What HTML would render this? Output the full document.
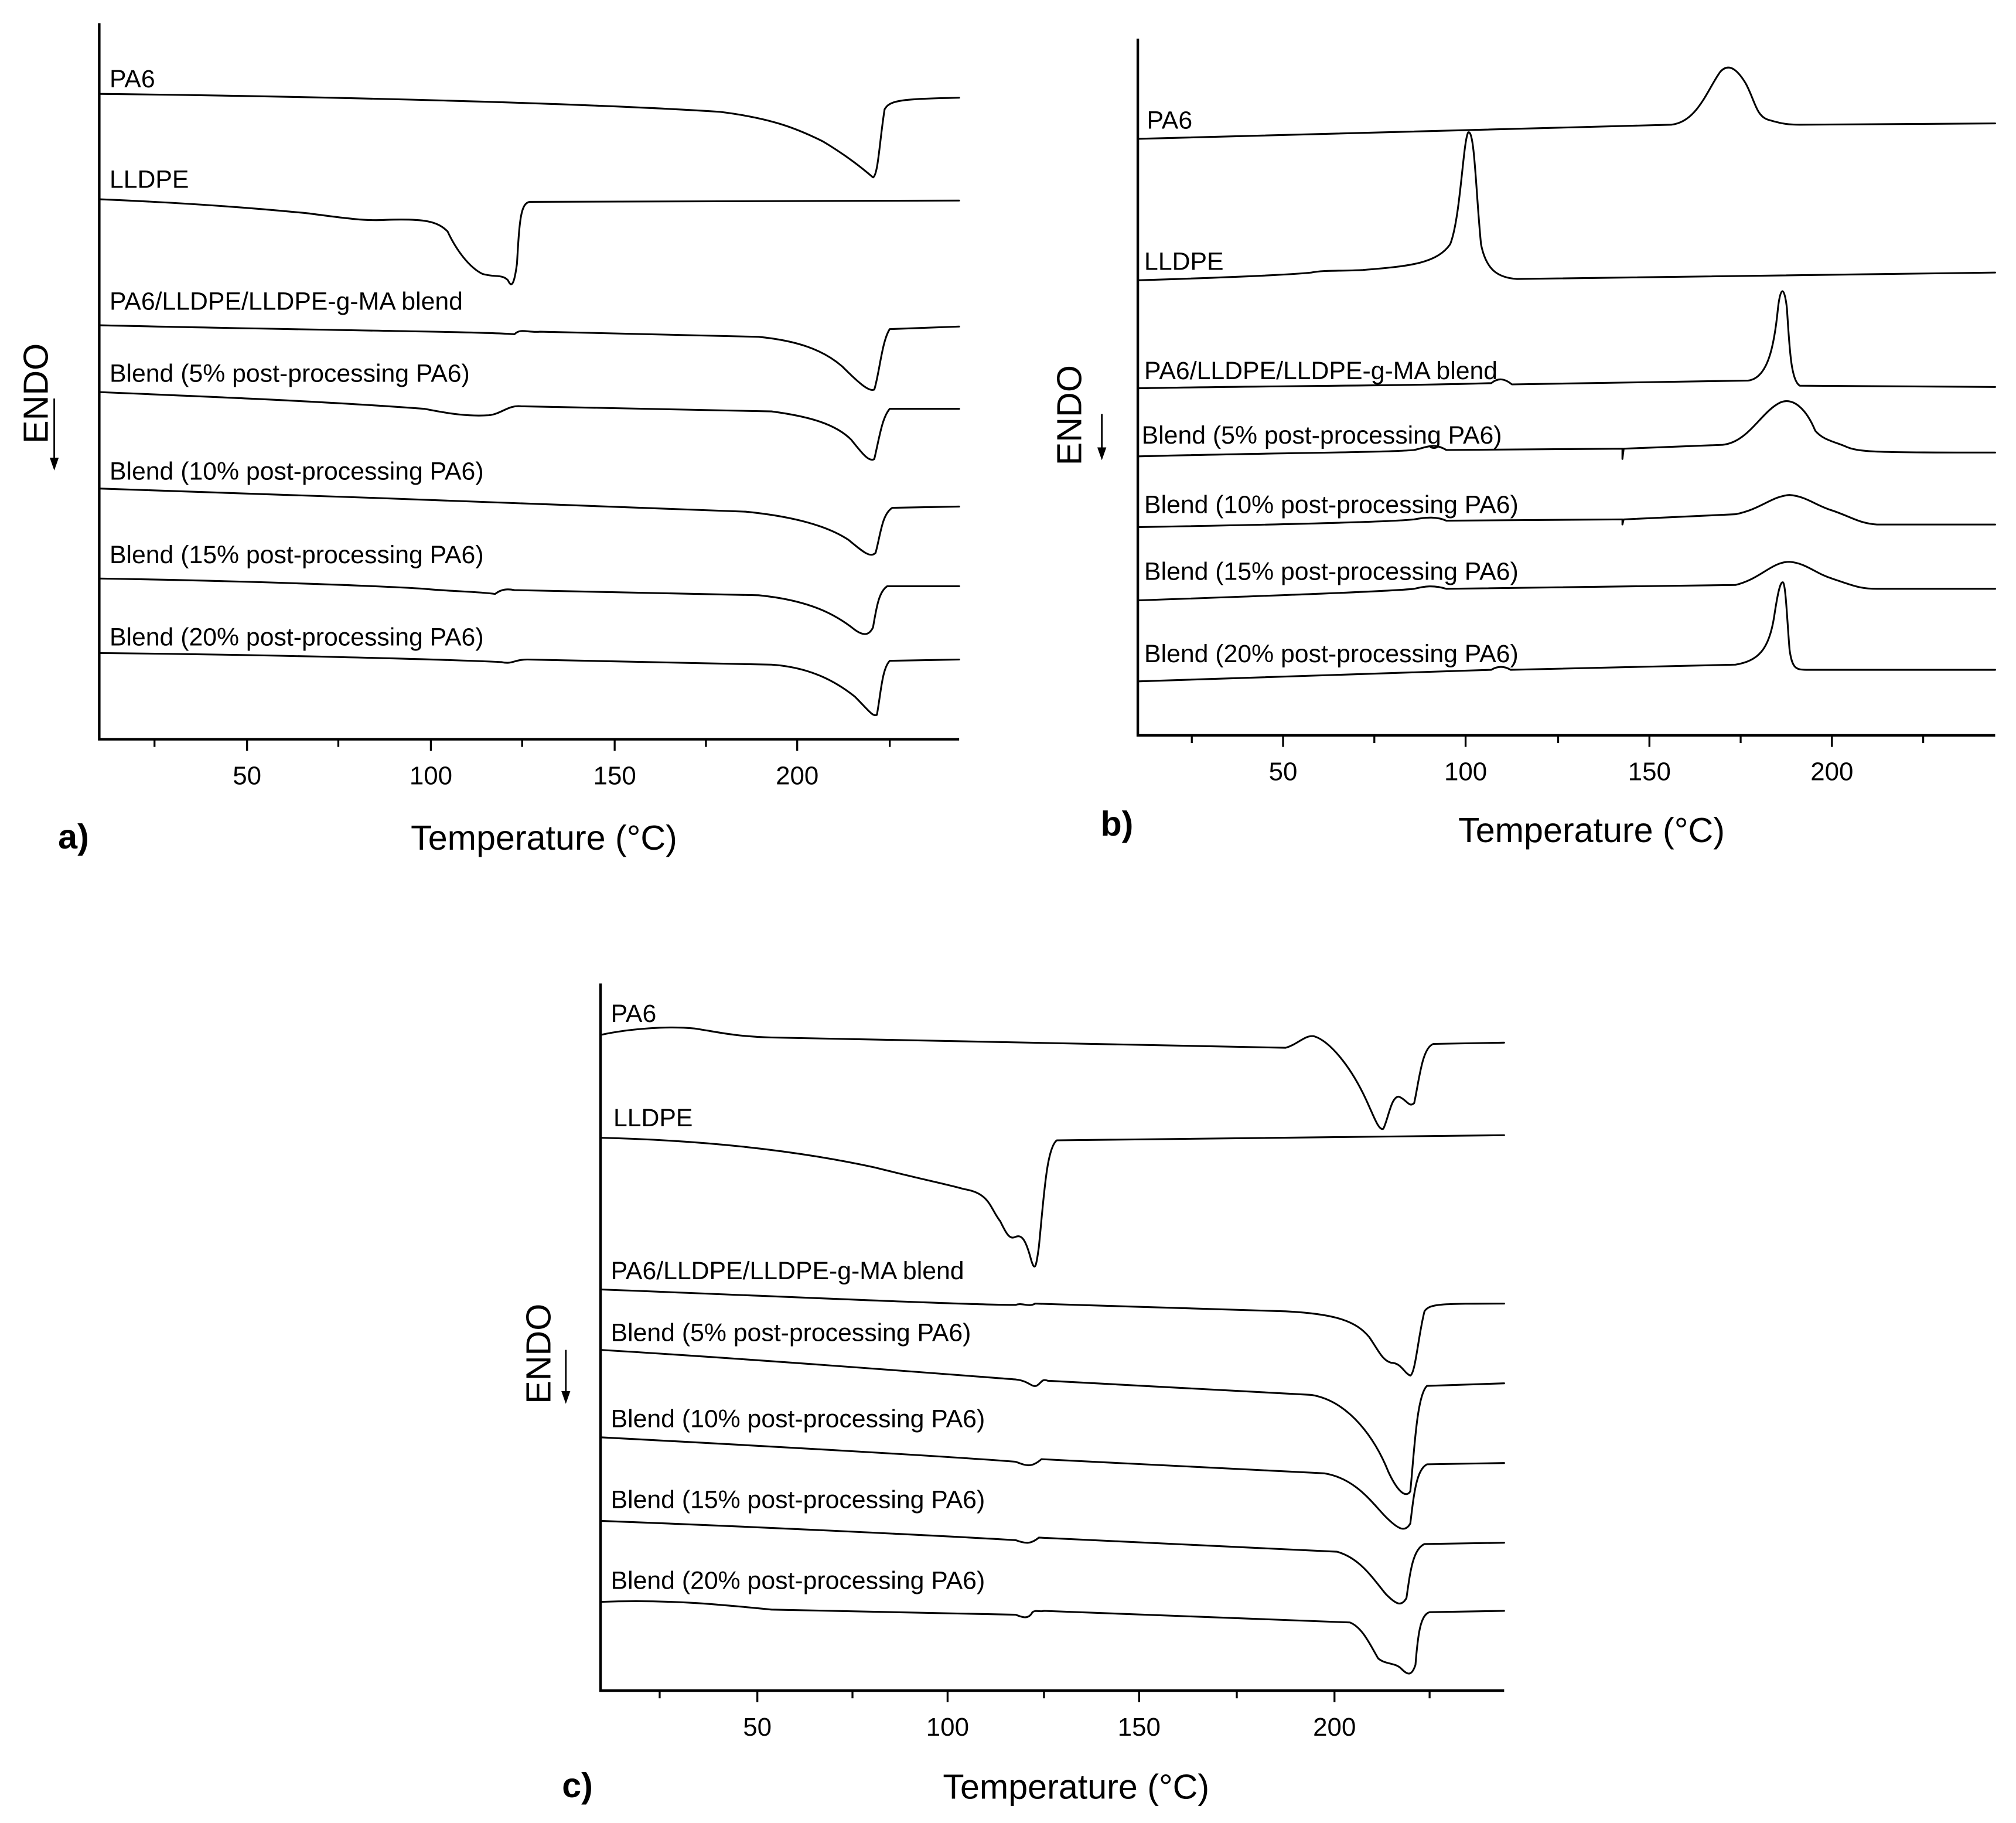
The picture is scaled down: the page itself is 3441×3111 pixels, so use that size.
<!DOCTYPE html>
<html><head><meta charset="utf-8"><style>
html,body{margin:0;padding:0;background:#fff;}
svg{display:block;}
text{font-family:"Liberation Sans",Arial,sans-serif;fill:#000;}
.c{fill:none;stroke:#000;stroke-width:1.4;stroke-linejoin:round;stroke-linecap:round;}
.ax{stroke:#000;stroke-width:2;fill:none;}
.tk{stroke:#000;stroke-width:1.5;}
.lb{font-size:19.5px;}
.tl{font-size:20px;}
.tt{font-size:27px;}
.pl{font-size:27px;font-weight:bold;}
</style></head><body>
<svg width="3441" height="3111" viewBox="0 0 1568 1418" xmlns="http://www.w3.org/2000/svg">
<rect width="1568" height="1418" fill="#fff"/>

<!-- Panel a -->
<path class="ax" d="M77,18 L77,575 L746,575"/>
<g class="tk">
<line x1="120" y1="575" x2="120" y2="581"/><line x1="192" y1="575" x2="192" y2="584"/>
<line x1="263" y1="575" x2="263" y2="581"/><line x1="335" y1="575" x2="335" y2="584"/>
<line x1="406" y1="575" x2="406" y2="581"/><line x1="478" y1="575" x2="478" y2="584"/>
<line x1="549" y1="575" x2="549" y2="581"/><line x1="620" y1="575" x2="620" y2="584"/>
<line x1="692" y1="575" x2="692" y2="581"/>
</g>
<g class="tl" text-anchor="middle">
<text x="192" y="610">50</text><text x="335" y="610">100</text><text x="478" y="610">150</text><text x="620" y="610">200</text>
</g>
<text class="tt" x="423" y="661" text-anchor="middle">Temperature (°C)</text>
<text class="pl" x="45" y="660">a)</text>
<text class="tt" transform="translate(37,345) rotate(-90)" font-size="23">ENDO</text>
<line x1="42" y1="310" x2="42" y2="360" stroke="#000" stroke-width="1.3"/>
<path d="M38.5,356 L42,366 L45.5,356 Z"/>

<g class="lb">
<text x="85" y="68">PA6</text>
<text x="85" y="146">LLDPE</text>
<text x="85" y="241">PA6/LLDPE/LLDPE-g-MA blend</text>
<text x="85" y="297">Blend (5% post-processing PA6)</text>
<text x="85" y="373">Blend (10% post-processing PA6)</text>
<text x="85" y="438">Blend (15% post-processing PA6)</text>
<text x="85" y="502">Blend (20% post-processing PA6)</text>
</g>
<path class="c" d="M77,73 C250,75 450,80 560,87 C600,92 620,100 640,110 C660,122 672,132 679,138 C683,136 684,110 688,85 C692,78 700,77 746,76"/>
<path class="c" d="M77,155 C150,158 200,162 240,166 C270,170 285,172 300,171 C330,170 340,172 348,180 C355,195 365,208 375,213 C385,216 390,213 395,218 C398,225 400,220 402,205 C404,170 405,158 412,157 L746,156"/>
<path class="c" d="M77,253 C250,257 380,258 400,260 C405,255 410,259 420,258 L590,262 C620,265 640,272 655,285 C668,298 676,305 680,303 C684,290 686,265 692,256 L746,254"/>
<path class="c" d="M77,305 C150,308 250,312 330,318 C350,322 365,324 380,323 C390,322 395,315 405,316 L600,320 C630,324 650,330 662,342 C670,352 676,360 680,357 C684,340 686,325 692,318 L746,318"/>
<path class="c" d="M77,380 C250,385 400,392 580,398 C620,402 645,410 660,420 C672,430 677,434 681,430 C685,415 686,400 694,395 L746,394"/>
<path class="c" d="M77,450 C200,452 300,456 330,458 C350,460 370,460 385,462 C390,458 395,458 400,459 L590,463 C630,467 650,478 665,490 C672,495 676,494 679,488 C682,470 684,460 690,456 L746,456"/>
<path class="c" d="M77,508 C200,509 350,513 390,515 C398,517 400,513 410,513 L600,517 C630,519 650,530 665,542 C675,552 679,558 682,556 C685,540 686,520 692,514 L746,513"/>

<!-- Panel b -->
<path class="ax" d="M885,30 L885,572 L1552,572"/>
<g class="tk">
<line x1="927" y1="572" x2="927" y2="578"/><line x1="998" y1="572" x2="998" y2="581"/>
<line x1="1069" y1="572" x2="1069" y2="578"/><line x1="1140" y1="572" x2="1140" y2="581"/>
<line x1="1212" y1="572" x2="1212" y2="578"/><line x1="1283" y1="572" x2="1283" y2="581"/>
<line x1="1354" y1="572" x2="1354" y2="578"/><line x1="1425" y1="572" x2="1425" y2="581"/>
<line x1="1496" y1="572" x2="1496" y2="578"/>
</g>
<g class="tl" text-anchor="middle">
<text x="998" y="607">50</text><text x="1140" y="607">100</text><text x="1283" y="607">150</text><text x="1425" y="607">200</text>
</g>
<text class="tt" x="1238" y="655" text-anchor="middle">Temperature (°C)</text>
<text class="pl" x="856" y="650">b)</text>
<text class="tt" transform="translate(841,362) rotate(-90)" font-size="23">ENDO</text>
<line x1="857" y1="322" x2="857" y2="352" stroke="#000" stroke-width="1.3"/>
<path d="M853.5,348 L857,358 L860.5,348 Z"/>

<g class="lb">
<text x="892" y="100">PA6</text>
<text x="890" y="210">LLDPE</text>
<text x="890" y="295">PA6/LLDPE/LLDPE-g-MA blend</text>
<text x="888" y="345">Blend (5% post-processing PA6)</text>
<text x="890" y="399">Blend (10% post-processing PA6)</text>
<text x="890" y="451">Blend (15% post-processing PA6)</text>
<text x="890" y="515">Blend (20% post-processing PA6)</text>
</g>
<path class="c" d="M885,108 C1050,103 1200,100 1300,97 C1320,95 1328,70 1338,56 C1345,48 1352,55 1358,65 C1365,78 1366,90 1375,93 C1385,96 1390,97 1400,97 L1552,96"/>
<path class="c" d="M885,218 C950,216 1000,214 1020,212 C1030,210 1040,211 1060,210 C1100,207 1118,204 1128,190 C1136,170 1138,110 1142,103 C1147,100 1148,150 1152,190 C1156,210 1165,216 1180,217 L1552,212"/>
<path class="c" d="M885,302 C1000,300 1100,300 1160,298 C1165,294 1170,294 1176,299 L1360,296 C1375,294 1380,270 1383,240 C1385,222 1388,222 1390,240 C1392,270 1393,296 1400,300 L1552,301"/>
<path class="c" d="M885,355 C1000,352 1080,352 1100,350 C1110,348 1115,344 1125,350 L1262,349 L1262,357 L1263,349 L1340,346 C1360,344 1370,320 1385,313 C1395,309 1405,318 1412,335 C1418,342 1425,343 1435,347 C1445,352 1460,352 1552,352"/>
<path class="c" d="M885,410 C1000,408 1080,406 1100,404 C1110,402 1118,402 1125,405 L1262,404 L1262,408 L1263,404 L1350,400 C1370,396 1378,386 1392,385 C1405,386 1412,393 1425,397 C1440,402 1446,407 1460,408 L1552,408"/>
<path class="c" d="M885,467 C1000,463 1080,460 1100,458 C1108,456 1115,455 1125,458 L1350,455 C1370,450 1378,437 1392,437 C1405,438 1412,446 1425,450 C1440,455 1446,458 1460,458 L1552,458"/>
<path class="c" d="M885,530 C1000,526 1100,523 1160,521 C1165,518 1170,518 1175,521 L1350,517 C1368,514 1376,505 1380,480 C1383,460 1385,452 1387,453 C1389,455 1390,480 1392,505 C1394,520 1397,521 1405,521 L1552,521"/>

<!-- Panel c -->
<path class="ax" d="M467,765 L467,1315 L1170,1315"/>
<g class="tk">
<line x1="513" y1="1315" x2="513" y2="1321"/><line x1="589" y1="1315" x2="589" y2="1324"/>
<line x1="663" y1="1315" x2="663" y2="1321"/><line x1="737" y1="1315" x2="737" y2="1324"/>
<line x1="812" y1="1315" x2="812" y2="1321"/><line x1="886" y1="1315" x2="886" y2="1324"/>
<line x1="962" y1="1315" x2="962" y2="1321"/><line x1="1038" y1="1315" x2="1038" y2="1324"/>
<line x1="1112" y1="1315" x2="1112" y2="1321"/>
</g>
<g class="tl" text-anchor="middle">
<text x="589" y="1350">50</text><text x="737" y="1350">100</text><text x="886" y="1350">150</text><text x="1038" y="1350">200</text>
</g>
<text class="tt" x="837" y="1399" text-anchor="middle">Temperature (°C)</text>
<text class="pl" x="437" y="1398">c)</text>
<text class="tt" transform="translate(428,1092) rotate(-90)" font-size="23">ENDO</text>
<line x1="440" y1="1050" x2="440" y2="1086" stroke="#000" stroke-width="1.3"/>
<path d="M436.5,1082 L440,1092 L443.5,1082 Z"/>

<g class="lb">
<text x="475" y="795">PA6</text>
<text x="477" y="876">LLDPE</text>
<text x="475" y="995">PA6/LLDPE/LLDPE-g-MA blend</text>
<text x="475" y="1043">Blend (5% post-processing PA6)</text>
<text x="475" y="1110">Blend (10% post-processing PA6)</text>
<text x="475" y="1173">Blend (15% post-processing PA6)</text>
<text x="475" y="1236">Blend (20% post-processing PA6)</text>
</g>
<path class="c" d="M467,805 C490,800 520,798 540,800 C560,803 570,806 600,807 L1000,815 C1010,812 1015,805 1022,806 C1035,810 1050,830 1060,850 C1068,866 1072,880 1076,878 C1080,870 1082,853 1088,853 C1094,855 1096,862 1100,858 C1104,840 1106,815 1115,812 L1170,811"/>
<path class="c" d="M467,885 C550,887 620,895 680,908 C720,918 740,922 750,925 C770,928 770,940 778,950 C782,958 785,965 790,962 C795,960 798,965 802,980 C805,990 806,985 808,970 C812,930 814,893 822,887 L1170,883"/>
<path class="c" d="M467,1003 C600,1008 750,1015 790,1015 C795,1013 800,1017 805,1014 L1000,1020 C1040,1022 1055,1028 1065,1040 C1072,1050 1075,1058 1082,1060 C1090,1060 1092,1068 1097,1070 C1101,1068 1103,1040 1108,1020 C1112,1014 1120,1014 1170,1014"/>
<path class="c" d="M467,1050 C600,1058 750,1070 790,1073 C800,1074 802,1079 806,1078 C810,1076 810,1072 815,1074 L1020,1085 C1050,1090 1070,1120 1080,1145 C1088,1162 1094,1165 1097,1160 C1100,1130 1102,1085 1110,1078 L1170,1076"/>
<path class="c" d="M467,1118 C600,1125 740,1133 790,1137 C798,1140 802,1142 810,1135 L1030,1146 C1055,1150 1068,1170 1078,1180 C1088,1190 1093,1192 1097,1185 C1100,1160 1102,1143 1110,1139 L1170,1138"/>
<path class="c" d="M467,1183 C600,1188 740,1195 790,1198 C798,1201 802,1201 808,1196 L1040,1207 C1058,1212 1068,1228 1078,1240 C1086,1248 1090,1250 1094,1243 C1097,1222 1099,1205 1108,1201 L1170,1200"/>
<path class="c" d="M467,1246 C520,1244 560,1248 600,1252 L790,1256 C795,1258 800,1260 803,1254 C806,1252 808,1254 812,1253 L1050,1262 C1060,1266 1066,1280 1072,1290 C1078,1295 1085,1293 1090,1298 C1095,1303 1098,1304 1101,1295 C1103,1270 1105,1256 1112,1254 L1170,1253"/>
</svg>
</body></html>
